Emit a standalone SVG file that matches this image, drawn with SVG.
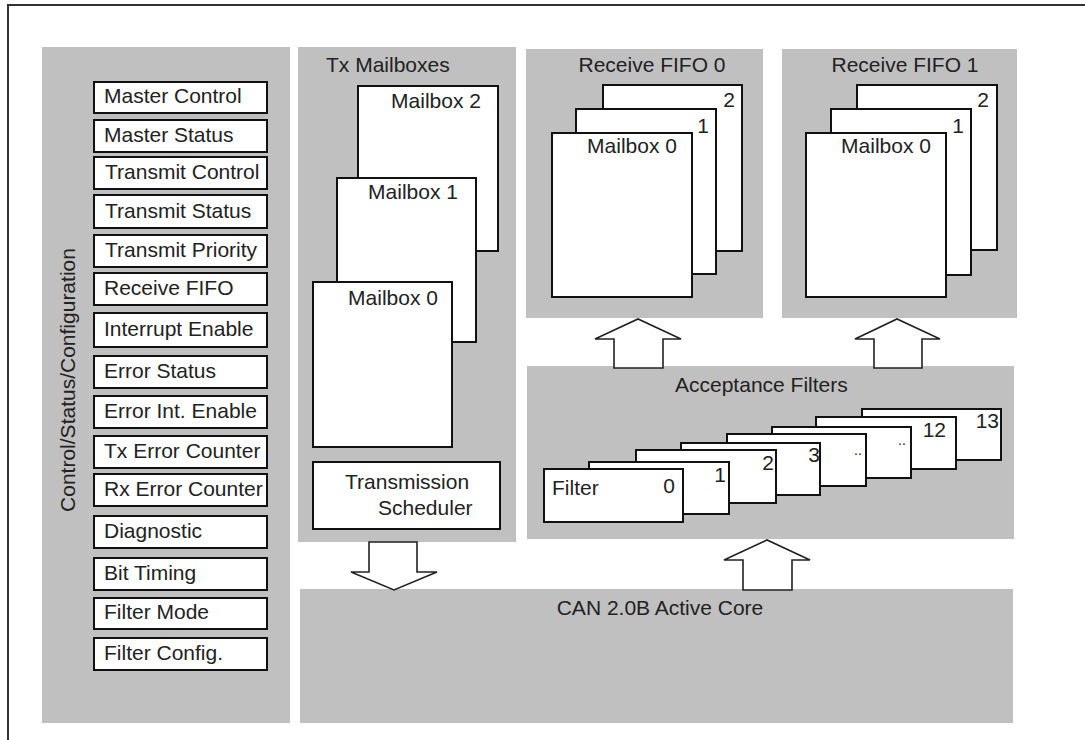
<svg xmlns="http://www.w3.org/2000/svg" width="1085" height="740" viewBox="0 0 1085 740">
<style>
.panel{fill:#c0c0c0}
.box{fill:#fff;stroke:#111;stroke-width:2}
.t{font-family:"Liberation Sans",Arial,sans-serif;font-size:21px;fill:#222}
.e{text-anchor:end}
.m{text-anchor:middle}
.arr{fill:#fff;stroke:#222;stroke-width:1.6;stroke-linejoin:miter}
.frame{fill:none;stroke:#333;stroke-width:2}
</style>
<rect width="1085" height="740" fill="#fff"/>
<path class="frame" d="M7,5 H1085 M8,5 V740"/>

<g id="control-status-config">
<rect class="panel" x="42" y="47" width="248" height="676"/>
<text class="t m" transform="translate(75,380) rotate(-90)">Control/Status/Configuration</text>
<g id="reg-master-control"><rect class="box" x="94" y="82" width="173" height="31"/><text class="t" x="104" y="103">Master Control</text></g>
<g id="reg-master-status"><rect class="box" x="94" y="120" width="173" height="32"/><text class="t" x="104" y="142">Master Status</text></g>
<g id="reg-transmit-control"><rect class="box" x="94" y="157" width="173" height="32"/><text class="t" x="105" y="179">Transmit Control</text></g>
<g id="reg-transmit-status"><rect class="box" x="94" y="195" width="173" height="33"/><text class="t" x="105" y="218">Transmit Status</text></g>
<g id="reg-transmit-priority"><rect class="box" x="94" y="235" width="173" height="32"/><text class="t" x="105" y="257">Transmit Priority</text></g>
<g id="reg-receive-fifo"><rect class="box" x="94" y="273" width="173" height="32"/><text class="t" x="104" y="295">Receive FIFO</text></g>
<g id="reg-interrupt-enable"><rect class="box" x="94" y="313" width="173" height="34"/><text class="t" x="104" y="336">Interrupt Enable</text></g>
<g id="reg-error-status"><rect class="box" x="94" y="356" width="173" height="32"/><text class="t" x="104" y="378">Error Status</text></g>
<g id="reg-error-int-enable"><rect class="box" x="94" y="396" width="173" height="32"/><text class="t" x="104" y="418">Error Int. Enable</text></g>
<g id="reg-tx-error-counter"><rect class="box" x="94" y="436" width="173" height="32"/><text class="t" x="104" y="458">Tx Error Counter</text></g>
<g id="reg-rx-error-counter"><rect class="box" x="94" y="474" width="173" height="32"/><text class="t" x="104" y="496">Rx Error Counter</text></g>
<g id="reg-diagnostic"><rect class="box" x="94" y="516" width="173" height="32"/><text class="t" x="104" y="538">Diagnostic</text></g>
<g id="reg-bit-timing"><rect class="box" x="94" y="558" width="173" height="32"/><text class="t" x="104" y="580">Bit Timing</text></g>
<g id="reg-filter-mode"><rect class="box" x="94" y="598" width="173" height="31"/><text class="t" x="104" y="619">Filter Mode</text></g>
<g id="reg-filter-config"><rect class="box" x="94" y="638" width="173" height="32"/><text class="t" x="104" y="660">Filter Config.</text></g>
</g>

<g id="tx-mailboxes">
<rect class="panel" x="298" y="47" width="218" height="495"/>
<text class="t" x="326" y="72">Tx Mailboxes</text>
<g id="tx-mailbox-2"><rect class="box" x="358" y="86" width="140" height="165"/><text class="t e" x="481" y="108">Mailbox 2</text></g>
<g id="tx-mailbox-1"><rect class="box" x="337" y="178" width="139" height="164"/><text class="t e" x="458" y="199">Mailbox 1</text></g>
<g id="tx-mailbox-0"><rect class="box" x="313" y="282" width="139" height="165"/><text class="t e" x="438" y="305">Mailbox 0</text></g>
<g id="transmission-scheduler"><rect class="box" x="313" y="462" width="187" height="67"/><text class="t" x="345" y="489">Transmission</text><text class="t" x="378" y="515">Scheduler</text></g>
</g>

<g id="receive-fifo-0">
<rect class="panel" x="526" y="49" width="237" height="269"/>
<text class="t m" x="652" y="72">Receive FIFO 0</text>
<rect class="box" x="603" y="85" width="139" height="166"/><text class="t e" x="735" y="107">2</text>
<rect class="box" x="576" y="109" width="140" height="165"/><text class="t e" x="709" y="133">1</text>
<rect class="box" x="552" y="133" width="140" height="164"/><text class="t e" x="677" y="153">Mailbox 0</text>
</g>

<g id="receive-fifo-1">
<rect class="panel" x="782" y="49" width="235" height="269"/>
<text class="t m" x="905" y="72">Receive FIFO 1</text>
<rect class="box" x="857" y="85" width="140" height="165"/><text class="t e" x="989" y="107">2</text>
<rect class="box" x="831" y="109" width="140" height="166"/><text class="t e" x="964" y="133">1</text>
<rect class="box" x="806" y="133" width="140" height="164"/><text class="t e" x="931" y="153">Mailbox 0</text>
</g>

<g id="acceptance-filters">
<rect class="panel" x="527" y="366" width="487" height="173"/>
<text class="t" x="675" y="392">Acceptance Filters</text>
<rect class="box" x="862" y="409" width="139" height="51"/><text class="t e" x="999" y="428">13</text>
<rect class="box" x="816" y="417" width="140" height="52"/><text class="t e" x="946" y="437">12</text>
<rect class="box" x="772" y="427" width="139" height="51"/><text class="t" x="898" y="445" style="font-size:14px">..</text>
<rect class="box" x="727" y="434" width="139" height="52"/><text class="t" x="854" y="455" style="font-size:14px">..</text>
<rect class="box" x="681" y="443" width="139" height="52"/><text class="t e" x="820" y="462">3</text>
<rect class="box" x="636" y="450" width="140" height="53"/><text class="t e" x="774" y="470">2</text>
<rect class="box" x="589" y="462" width="140" height="52"/><text class="t e" x="726" y="482">1</text>
<rect class="box" x="544" y="469" width="139" height="53"/><text class="t" x="552" y="495">Filter</text><text class="t e" x="675" y="493">0</text>
</g>

<g id="can-core">
<rect class="panel" x="300" y="589" width="713" height="134"/>
<text class="t m" x="660" y="615">CAN 2.0B Active Core</text>
</g>

<g id="connectors">
<path class="arr" d="M369,542 V572 H351 L394,590 L437,572 H417 V542 Z"/>
<path class="arr" d="M614,368 V339 H595 L638,319 L681,339 H663 V368 Z"/>
<path class="arr" d="M874,368 V339 H855 L897,319 L940,339 H922 V368 Z"/>
<path class="arr" d="M743,590 V560 H724 L767,540 L810,560 H792 V590 Z"/>
</g>
</svg>
